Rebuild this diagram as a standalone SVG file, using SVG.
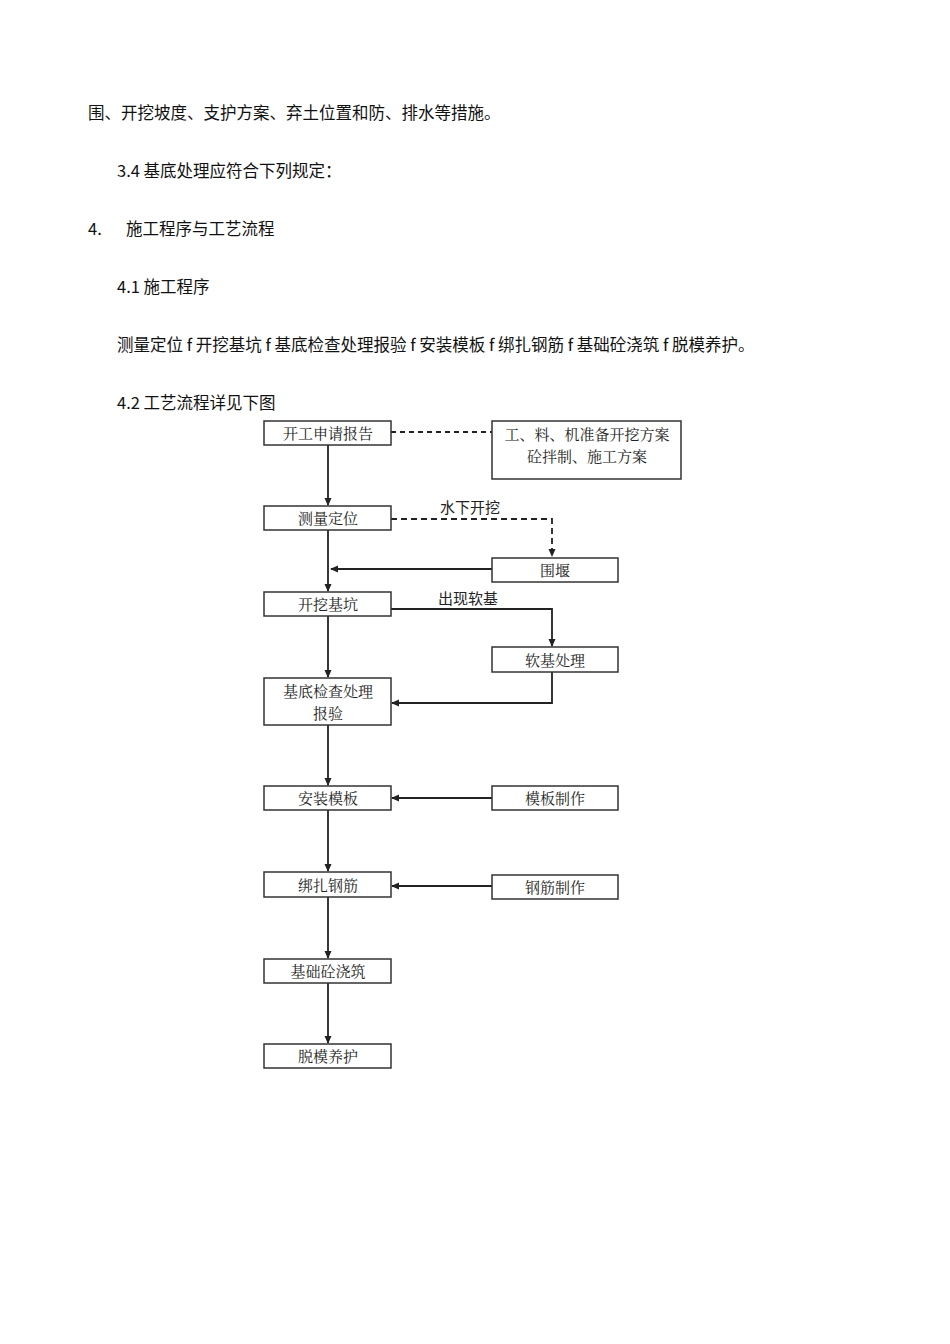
<svg xmlns="http://www.w3.org/2000/svg" width="950" height="1344" viewBox="0 0 950 1344">
<style>
.t{font-family:"Noto Sans CJK SC","Noto Sans",sans-serif;font-size:16.5px;fill:#111}
.b rect{fill:#fff;stroke:#333;stroke-width:1.5}
.b text{font-family:"Noto Serif CJK SC","Noto Sans CJK SC",serif;font-size:15px;fill:#222;text-anchor:middle}
.c{stroke:#222;stroke-width:1.8;fill:none}
.l{font-family:"Noto Sans CJK SC",serif;font-size:15px;fill:#222}
</style>
<defs><marker id="a" markerWidth="8" markerHeight="8" refX="7" refY="4" orient="auto" markerUnits="userSpaceOnUse"><path d="M0,0.5L8,4L0,7.5z" fill="#222"/></marker></defs>
<rect width="950" height="1344" fill="#fff"/>
<text class="t" x="88" y="119">围、开挖坡度、支护方案、弃土位置和防、排水等措施。</text>
<text class="t" x="117" y="177">3.4 基底处理应符合下列规定：</text>
<text class="t" x="88" y="235">4.</text>
<text class="t" x="126" y="235">施工程序与工艺流程</text>
<text class="t" x="117" y="293">4.1 施工程序</text>
<text class="t" x="117" y="351">测量定位 f 开挖基坑 f 基底检查处理报验 f 安装模板 f 绑扎钢筋 f 基础砼浇筑 f 脱模养护。</text>
<text class="t" x="117" y="409">4.2 工艺流程详见下图</text>
<g id="connectors">
<path class="c" d="M391,432H492" stroke-dasharray="5,4" stroke-width="1.2"/>
<path class="c" d="M328,445V505" marker-end="url(#a)"/>
<path class="c" d="M391,519H552V556" stroke-dasharray="6,4" marker-end="url(#a)"/>
<path class="c" d="M328,530V591" marker-end="url(#a)"/>
<path class="c" d="M492,569H331" marker-end="url(#a)"/>
<path class="c" d="M391,609H552V646" marker-end="url(#a)"/>
<path class="c" d="M328,616V677" marker-end="url(#a)"/>
<path class="c" d="M552,672V703H392" marker-end="url(#a)"/>
<path class="c" d="M328,725V785" marker-end="url(#a)"/>
<path class="c" d="M492,798H392" marker-end="url(#a)"/>
<path class="c" d="M328,810V871" marker-end="url(#a)"/>
<path class="c" d="M492,886H392" marker-end="url(#a)"/>
<path class="c" d="M328,897V958" marker-end="url(#a)"/>
<path class="c" d="M328,983V1043" marker-end="url(#a)"/>
<text class="l" x="440" y="513">水下开挖</text>
<text class="l" x="438" y="604">出现软基</text>
</g>
<g id="n1" class="b"><rect x="264" y="421" width="127" height="24"/><text x="328" y="439">开工申请报告</text></g>
<g id="n2" class="b"><rect x="492" y="421" width="189" height="58"/><text x="587" y="440">工、料、机准备开挖方案</text><text x="587" y="462">砼拌制、施工方案</text></g>
<g id="n3" class="b"><rect x="264" y="506" width="127" height="24"/><text x="328" y="524">测量定位</text></g>
<g id="n4" class="b"><rect x="492" y="558" width="126" height="24"/><text x="555" y="576">围堰</text></g>
<g id="n5" class="b"><rect x="264" y="592" width="127" height="24"/><text x="328" y="610">开挖基坑</text></g>
<g id="n6" class="b"><rect x="492" y="647" width="126" height="25"/><text x="555" y="666">软基处理</text></g>
<g id="n7" class="b"><rect x="264" y="678" width="127" height="47"/><text x="328" y="697">基底检查处理</text><text x="328" y="719">报验</text></g>
<g id="n8" class="b"><rect x="264" y="786" width="127" height="24"/><text x="328" y="804">安装模板</text></g>
<g id="n9" class="b"><rect x="492" y="786" width="126" height="24"/><text x="555" y="804">模板制作</text></g>
<g id="n10" class="b"><rect x="264" y="872" width="127" height="25"/><text x="328" y="891">绑扎钢筋</text></g>
<g id="n11" class="b"><rect x="492" y="875" width="126" height="24"/><text x="555" y="893">钢筋制作</text></g>
<g id="n12" class="b"><rect x="264" y="959" width="127" height="24"/><text x="328" y="977">基础砼浇筑</text></g>
<g id="n13" class="b"><rect x="264" y="1044" width="127" height="24"/><text x="328" y="1062">脱模养护</text></g>
</svg>
